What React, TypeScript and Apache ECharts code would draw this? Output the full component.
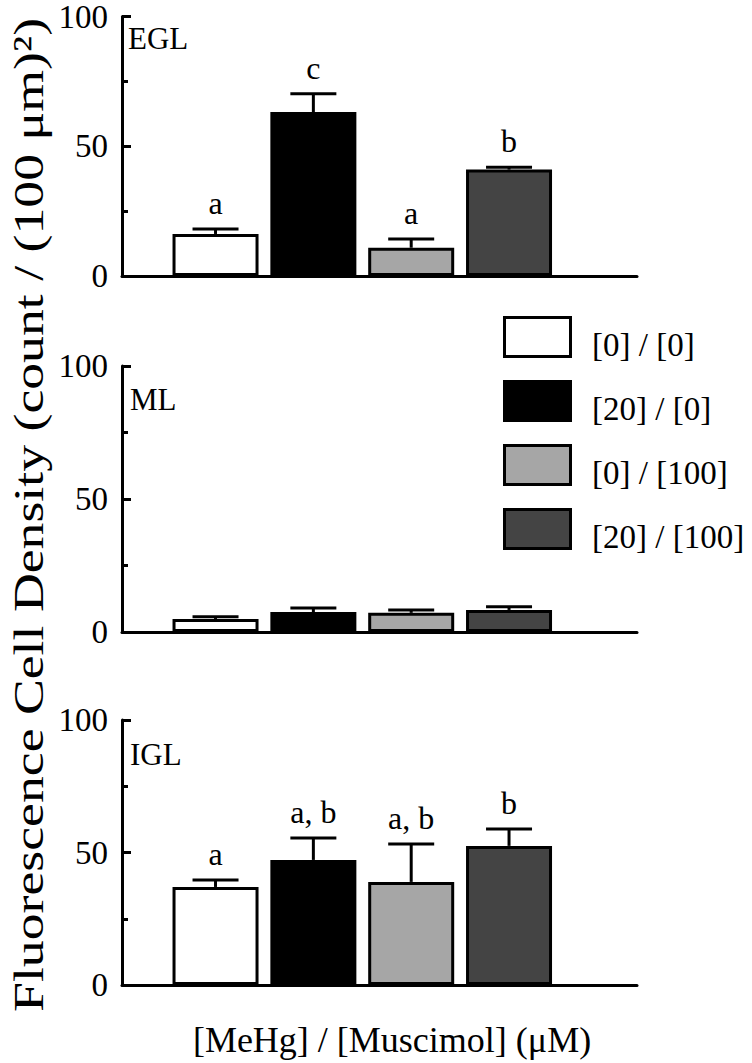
import React, { useEffect, useRef } from "react";
import * as echarts from "echarts";

const groups = ["[0] / [0]", "[20] / [0]", "[0] / [100]", "[20] / [100]"];
const groupColors = ["#ffffff", "#000000", "#a6a6a6", "#444444"];
const positions = [1, 2, 3, 4];
const panelNames = ["EGL", "ML", "IGL"];

const eglMean = [16.2, 63.2, 10.9, 41.0];
const eglErr = [1.9, 7.0, 3.4, 0.9];
const eglLetters = ["a", "c", "a", "b"];

const mlMean = [4.9, 7.5, 7.2, 8.3];
const mlErr = [0.8, 1.5, 1.1, 1.2];
const mlLetters = ["", "", "", ""];

const iglMean = [37.0, 47.2, 38.9, 52.5];
const iglErr = [2.6, 8.3, 14.3, 6.4];
const iglLetters = ["a", "a, b", "a, b", "b"];

const yMin = 0;
const yMax = 100;
const yInterval = 50;

const yAxisTitle = "Fluorescence Cell Density (count / (100 μm)²)";
const xAxisTitle = "[MeHg] / [Muscimol] (μM)";

const FONT = "Liberation Serif";

const panels = [
  { name: panelNames[0], mean: eglMean, err: eglErr, letters: eglLetters },
  { name: panelNames[1], mean: mlMean, err: mlErr, letters: mlLetters },
  { name: panelNames[2], mean: iglMean, err: iglErr, letters: iglLetters },
];

const gridBoxes = [
  { left: 122, top: 10, width: 515, height: 266 },
  { left: 122, top: 366, width: 515, height: 266 },
  { left: 122, top: 720, width: 515, height: 265 },
];
const panelLabelPos = [
  { x: 128, y: 38 },
  { x: 130, y: 399 },
  { x: 130, y: 754 },
];

export default function App() {
  const ref = useRef<HTMLDivElement>(null);

  useEffect(() => {
    if (!ref.current) return;
    const chart = echarts.init(ref.current, null, { renderer: "svg" });

    const grid = gridBoxes.map((g) => ({ ...g, containLabel: false }));

    const xAxis = gridBoxes.map((_, i) => ({
      type: "value",
      gridIndex: i,
      min: 0.044,
      max: 5.308,
      axisLine: { show: true, onZero: true, lineStyle: { color: "#000", width: 3 } },
      axisTick: { show: false },
      axisLabel: { show: false },
      splitLine: { show: false },
    }));

    const yAxis = gridBoxes.map((_, i) => ({
      type: "value",
      gridIndex: i,
      min: yMin,
      max: yMax,
      interval: yInterval,
      axisLine: { show: true, lineStyle: { color: "#000", width: 3 } },
      axisTick: { show: true, inside: true, length: 9, lineStyle: { color: "#000", width: 3 } },
      minorTick: { show: true, splitNumber: 2, length: 6, lineStyle: { color: "#000", width: 3 } },
      axisLabel: {
        color: "#000",
        fontSize: 33,
        fontFamily: FONT,
        margin: 14,
        padding: [8, 0, 0, 0],
      },
      splitLine: { show: false },
      minorSplitLine: { show: false },
    }));

    const series: any[] = [];
    panels.forEach((p, pi) => {
      groups.forEach((gName, gi) => {
        series.push({
          type: "bar",
          name: gName,
          xAxisIndex: pi,
          yAxisIndex: pi,
          barWidth: 86,
          barGap: "-100%",
          data: [[positions[gi], p.mean[gi]]],
          itemStyle: { color: groupColors[gi], borderColor: "#000", borderWidth: 3 },
          silent: true,
        });
      });
      const letters = p.letters;
      series.push({
        type: "custom",
        xAxisIndex: pi,
        yAxisIndex: pi,
        silent: true,
        clip: false,
        data: positions.map((x, i) => [x, p.mean[i], p.err[i], i]),
        renderItem: (params: any, api: any) => {
          const x = api.value(0);
          const m = api.value(1);
          const e = api.value(2);
          const idx = api.value(3);
          const base = api.coord([x, m]);
          const top = api.coord([x, m + e]);
          const children: any[] = [
            {
              type: "line",
              shape: { x1: base[0], y1: base[1], x2: top[0], y2: top[1] },
              style: { stroke: "#000", lineWidth: 3 },
            },
            {
              type: "line",
              shape: { x1: top[0] - 23, y1: top[1], x2: top[0] + 23, y2: top[1] },
              style: { stroke: "#000", lineWidth: 3 },
            },
          ];
          const t = letters[idx];
          if (t) {
            children.push({
              type: "text",
              style: {
                text: t,
                x: top[0],
                y: top[1] - 10,
                align: "center",
                verticalAlign: "bottom",
                fontSize: 32,
                fontFamily: FONT,
                fill: "#000",
              },
            });
          }
          return { type: "group", children };
        },
      });
    });

    const graphic: any[] = [];
    panels.forEach((p, pi) => {
      graphic.push({
        type: "text",
        x: panelLabelPos[pi].x,
        y: panelLabelPos[pi].y,
        style: {
          text: p.name,
          fontSize: 31,
          fontFamily: FONT,
          fill: "#000",
          verticalAlign: "middle",
          align: "left",
        },
      });
    });
    groups.forEach((gName, gi) => {
      graphic.push({
        type: "rect",
        shape: { x: 504.5, y: 317.5 + 64 * gi, width: 66, height: 39 },
        style: { fill: groupColors[gi], stroke: "#000", lineWidth: 3 },
      });
      graphic.push({
        type: "text",
        x: 592,
        y: 345 + 64 * gi,
        style: {
          text: gName,
          fontSize: 33,
          fontFamily: FONT,
          fill: "#000",
          verticalAlign: "middle",
          align: "left",
        },
      });
    });
    graphic.push({
      type: "text",
      x: 29,
      y: 515,
      rotation: Math.PI / 2,
      scaleX: 1.28,
      style: {
        text: yAxisTitle,
        fontSize: 42,
        fontFamily: FONT,
        fill: "#000",
        align: "center",
        verticalAlign: "middle",
      },
    });
    graphic.push({
      type: "text",
      x: 392,
      y: 1040,
      style: {
        text: xAxisTitle,
        fontSize: 36,
        fontFamily: FONT,
        fill: "#000",
        align: "center",
        verticalAlign: "middle",
      },
    });

    chart.setOption({
      animation: false,
      backgroundColor: "#fff",
      grid,
      xAxis,
      yAxis,
      series,
      graphic,
    });

    return () => chart.dispose();
  }, []);

  return (
    <div
      ref={ref}
      style={{ position: "absolute", left: 0, top: 0, width: 752, height: 1063, background: "#fff" }}
    />
  );
}
